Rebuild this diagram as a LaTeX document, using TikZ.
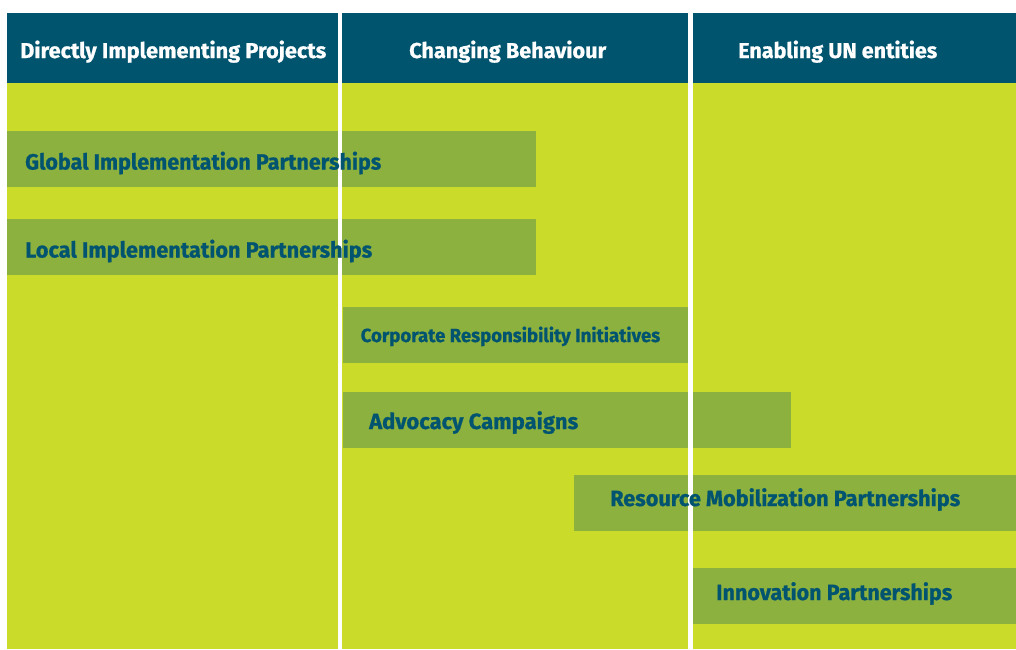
\documentclass[tikz,border=0pt]{standalone}
\usepackage{fontspec}
\setmainfont{Fira Sans}[BoldFeatures={FakeBold=0.8}]
\usepackage{graphicx}
\definecolor{hdr}{HTML}{00546E}
\definecolor{bgc}{HTML}{CBDB2A}
\definecolor{barc}{HTML}{8DB13E}
\definecolor{txt}{HTML}{005470}
\newcommand\fitto[2]{\resizebox{#1pt}{\height}{#2}}
\begin{document}
\begin{tikzpicture}[x=1pt,y=-1pt,
  hdrtext/.style={anchor=base west, inner sep=0pt, text=white, font=\bfseries\fontsize{21.5}{24}\selectfont},
  bartext/.style={anchor=base west, inner sep=0pt, text=txt, font=\bfseries\fontsize{22}{26}\selectfont},
  smalltext/.style={bartext, font=\bfseries\fontsize{19}{22}\selectfont},
  barfill/.style={fill=barc},
  divider/.style={fill=white}]
\useasboundingbox (0,0) rectangle (1016,649);
\fill[white] (0,0) rectangle (1016,649);
\fill[bgc] (7,13) rectangle (1016,649);
\fill[hdr] (7,13) rectangle (1016,83);
% bars
\fill[barfill] (7,131) rectangle (536,187);
\fill[barfill] (7,219) rectangle (536,275);
\fill[barfill] (343,307) rectangle (688,363);
\fill[barfill] (343,392) rectangle (791,448);
\fill[barfill] (574,475) rectangle (1016,531);
\fill[barfill] (692,568) rectangle (1016,624);
% dividers
\fill[divider] (337.8,13) rectangle (342.3,649);
\fill[divider] (688.2,13) rectangle (692.8,649);
% header texts
\node[hdrtext] (h1) at (20,58) {\fitto{306}{Directly Implementing Projects}};
\node[hdrtext] (h2) at (409,58) {\fitto{197}{Changing Behaviour}};
\node[hdrtext] (h3) at (738,58) {\fitto{199}{Enabling UN entities}};
% bar texts
\node[bartext] (gip) at (25,169.5) {\fitto{356}{Global Implementation Partnerships}};
\node[bartext] (lip) at (25,257.5) {\fitto{347}{Local Implementation Partnerships}};
\node[smalltext] (cri) at (360.5,342) {\fitto{299.5}{Corporate Responsibility Initiatives}};
\node[bartext] (adv) at (369,429) {\fitto{209}{Advocacy Campaigns}};
\node[bartext] (rmp) at (610,506) {\fitto{350}{Resource Mobilization Partnerships}};
\node[bartext] (inn) at (716,600) {\fitto{236}{Innovation Partnerships}};
\end{tikzpicture}
\end{document}
